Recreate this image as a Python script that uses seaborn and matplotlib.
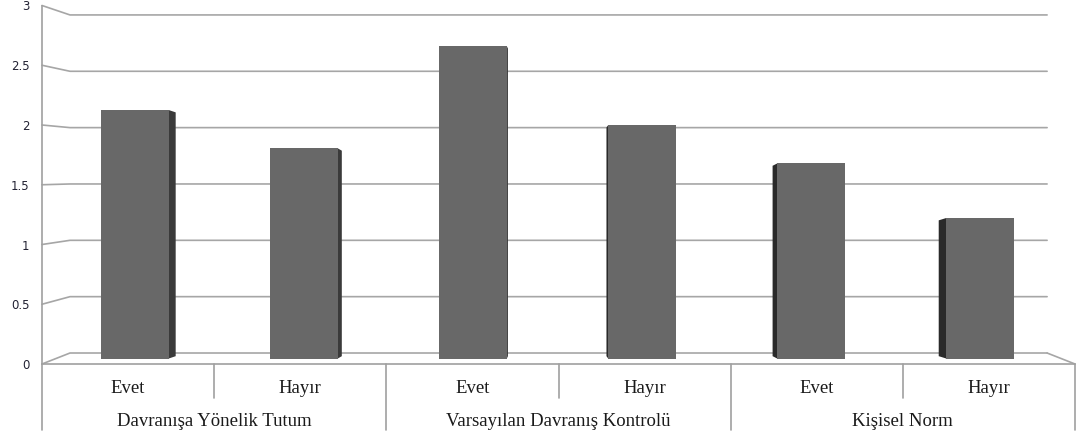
import matplotlib
matplotlib.use("Agg")
import matplotlib.pyplot as plt
import seaborn as sns
import pandas as pd
from matplotlib.patches import Polygon

# ---- data ----
groups = ["Davranışa Yönelik Tutum", "Varsayılan Davranış Kontrolü", "Kişisel Norm"]
subcats = ["Evet", "Hayır"]
values = [2.14, 1.81, 2.69, 2.01, 1.68, 1.21]
yticks = [0, 0.5, 1, 1.5, 2, 2.5, 3]
ytick_labels = ["0", "0.5", "1", "1.5", "2", "2.5", "3"]

keys = [f"{g}|{s}" for g in groups for s in subcats]
df = pd.DataFrame({"key": keys, "value": values})

sns.set_style("white")
plt.rcParams["font.family"] = ["DejaVu Sans"]

W, H = 1080, 438
fig = plt.figure(figsize=(W / 100, H / 100), dpi=100)

grid_c = "#A6A6A6"
line_c = "#A0A0A0"

# ---- front plane axes (value axis, walls, floor) ----
ax = fig.add_axes([42 / W, (H - 364) / H, 1033 / W, 358.5 / H])
ax.set_xlim(0, 1)
ax.set_ylim(0, 3)
ax.set_yticks(yticks)
ax.set_yticklabels(ytick_labels, fontsize=8.5, color="#222233")
ax.tick_params(axis="y", length=0, pad=9)
ax.set_xticks([])
for s in ["top", "right", "bottom"]:
    ax.spines[s].set_visible(False)
ax.spines["left"].set_color(line_c)
ax.spines["left"].set_linewidth(1.2)
ax.patch.set_alpha(0)

tr = ax.get_yaxis_transform()
back_off, back_scale = 0.092, 0.943
bx0, bx1 = 0.0271, 0.973
for v in yticks:
    b = back_off + back_scale * v
    ax.plot([0, bx0, bx1], [v, b, b], color=grid_c, lw=1.2, transform=tr,
            clip_on=False, zorder=1)
# floor
b0 = back_off
ax.plot([bx1, 1.0], [b0, 0], color=grid_c, lw=1.2, transform=tr, clip_on=False)
ax.plot([0, 1.0], [0, 0], color=line_c, lw=1.2, transform=tr, clip_on=False)

# ---- bar plane axes (mid depth) ----
bar_left, bar_width_px = 50.5, 1014
bx = fig.add_axes([bar_left / W, (H - 358.5) / H, bar_width_px / W, 348.3 / H])
sns.barplot(data=df, x="key", y="value", color="#686868", width=0.4,
            saturation=1, ax=bx, zorder=3)
bx.set_xlim(-0.5, 5.5)
bx.set_ylim(0, 3)
bx.set_axis_off()
bx.patch.set_alpha(0)

slot_px = bar_width_px / 6
for p in list(bx.patches):
    x0, w, h = p.get_x(), p.get_width(), p.get_height()
    p.set_edgecolor("none")
    center_px = bar_left + (x0 + w / 2 + 0.5) * slot_px
    dist = center_px - W / 2
    s = 0.017 * abs(dist) / slot_px
    if dist < 0:
        poly = [(x0 + w, 0), (x0 + w + s, 0.02), (x0 + w + s, h - 0.02), (x0 + w, h)]
        col = "#3A3A3A"
    else:
        poly = [(x0 - s, 0.02), (x0, 0), (x0, h), (x0 - s, h - 0.02)]
        col = "#2A2A2A"
    bx.add_patch(Polygon(poly, closed=True, facecolor=col, edgecolor="none", zorder=2))

# ---- category label area ----
lx = fig.add_axes([42 / W, (H - 430) / H, 1033 / W, 66 / H])
lx.set_xlim(-0.5, 5.5)
lx.set_ylim(1, 0)
lx.set_axis_off()
lx.patch.set_alpha(0)

serif = ["Liberation Serif", "DejaVu Serif"]
for i, k in enumerate(keys):
    sub = k.split("|")[1]
    lx.text(i, 0.44, sub, ha="center", va="baseline", fontsize=13.5,
            family=serif, color="#1A1A1A")
for gi, g in enumerate(groups):
    lx.text(gi * 2 + 0.5, 0.94, g, ha="center", va="baseline", fontsize=13.5,
            family=serif, color="#1A1A1A")
for xb in [0.5, 2.5, 4.5]:
    lx.plot([xb, xb], [0, 0.515], color=line_c, lw=1.2, clip_on=False)
for xb in [-0.5, 1.5, 3.5, 5.5]:
    lx.plot([xb, xb], [0, 1], color=line_c, lw=1.2, clip_on=False)

fig.savefig("out.png", dpi=100)
